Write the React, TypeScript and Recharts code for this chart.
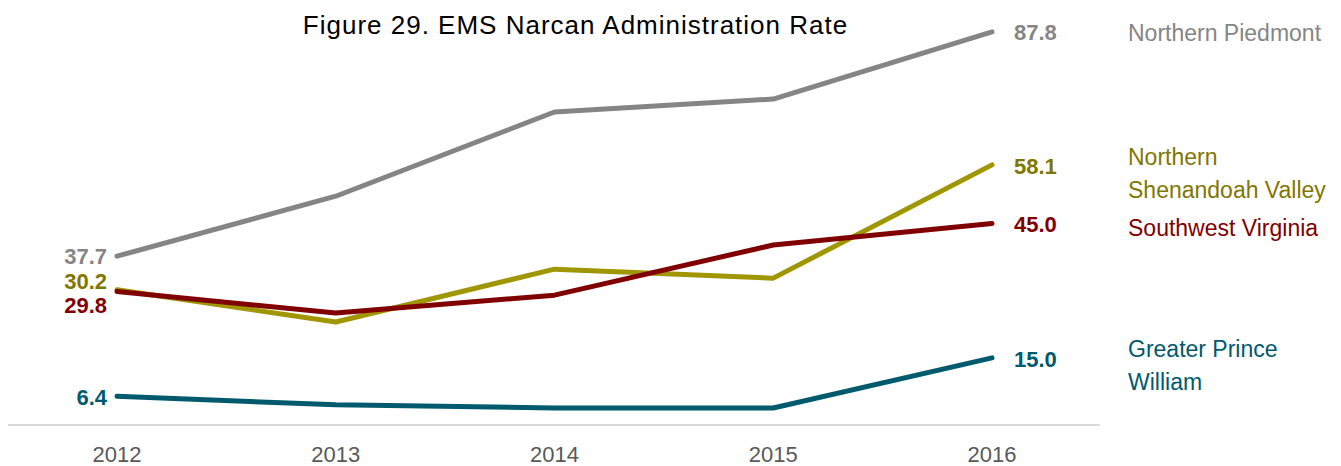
import { LineChart, Line, XAxis, YAxis, LabelList } from 'recharts';

const YEARS = ['2012', '2013', '2014', '2015', '2016'];

const NORTHERN_PIEDMONT = [37.7, 51.1, 69.9, 72.8, 87.8];
const NORTHERN_SHENANDOAH = [30.2, 23.0, 34.8, 32.8, 58.1];
const SOUTHWEST_VIRGINIA = [29.8, 25.0, 29.0, 40.2, 45.0];
const GREATER_PRINCE_WILLIAM = [6.4, 4.5, 3.8, 3.8, 15.0];

const data = YEARS.map((year, i) => ({
  year,
  np: NORTHERN_PIEDMONT[i],
  nsv: NORTHERN_SHENANDOAH[i],
  swv: SOUTHWEST_VIRGINIA[i],
  gpw: GREATER_PRINCE_WILLIAM[i],
}));

// series styling and where the end labels sit relative to the point
const SERIES = [
  { key: 'np', name: ['Northern Piedmont'], line: '#858585', text: '#858585', firstDy: 0, lastDy: 0, nameDy: 1 },
  { key: 'nsv', name: ['Northern', 'Shenandoah Valley'], line: '#a09600', text: '#7f7700', firstDy: -8, lastDy: 1, nameDy: -8 },
  { key: 'swv', name: ['Southwest Virginia'], line: '#800000', text: '#800000', firstDy: 14, lastDy: 1, nameDy: 4 },
  { key: 'gpw', name: ['Greater Prince', 'William'], line: '#005a6e', text: '#005a6e', firstDy: 1, lastDy: 1, nameDy: -9 },
];

const LAST = YEARS.length - 1;

function makeLabel(s: (typeof SERIES)[number]) {
  return (props: any) => {
    const { x, y, value, index } = props;
    if (index === 0) {
      return (
        <text x={x - 10} y={y + s.firstDy} dy="0.35em" textAnchor="end" fill={s.text}
          fontFamily="Liberation Sans, Arial, sans-serif" fontWeight="bold" fontSize={22}>
          {value.toFixed(1)}
        </text>
      );
    }
    if (index === LAST) {
      return (
        <g>
          <text x={x + 22} y={y + s.lastDy} dy="0.35em" textAnchor="start" fill={s.text}
            fontFamily="Liberation Sans, Arial, sans-serif" fontWeight="bold" fontSize={22}>
            {value.toFixed(1)}
          </text>
          {s.name.map((ln, j) => (
            <text key={j} x={1128} y={y + s.nameDy + j * 33} dy="0.35em" fill={s.text}
              fontFamily="Liberation Sans Narrow, Arial Narrow, sans-serif" fontSize={23}>
              {ln}
            </text>
          ))}
        </g>
      );
    }
    return null;
  };
}

export default function App() {
  return (
    <div style={{ position: 'absolute', left: 0, top: 0, width: 1341, height: 466, background: '#fff' }}>
      <div style={{
        position: 'absolute', left: 0, width: 1151, top: 10, textAlign: 'center',
        fontFamily: 'Liberation Sans, Arial, sans-serif', fontSize: 26, letterSpacing: 1, color: '#000',
      }}>
        Figure 29. EMS Narcan Administration Rate
      </div>
      <LineChart width={1341} height={466} data={data} margin={{ top: 31, right: 241, bottom: 0, left: 8 }}>
        <XAxis
          dataKey="year"
          padding={{ left: 109, right: 108 }}
          height={41}
          tickLine={false}
          axisLine={{ stroke: '#d9d9d9', strokeWidth: 2 }}
          tick={{ fill: '#595959', fontSize: 22, fontFamily: 'Liberation Sans, Arial, sans-serif' }}
          tickMargin={15}
        />
        <YAxis hide domain={[0, 88]} />
        {SERIES.map((s) => (
          <Line key={s.key} dataKey={s.key} stroke={s.line} strokeWidth={5} dot={false}
            strokeLinecap="round" strokeLinejoin="round" isAnimationActive={false}>
            <LabelList dataKey={s.key} content={makeLabel(s)} />
          </Line>
        ))}
      </LineChart>
    </div>
  );
}
